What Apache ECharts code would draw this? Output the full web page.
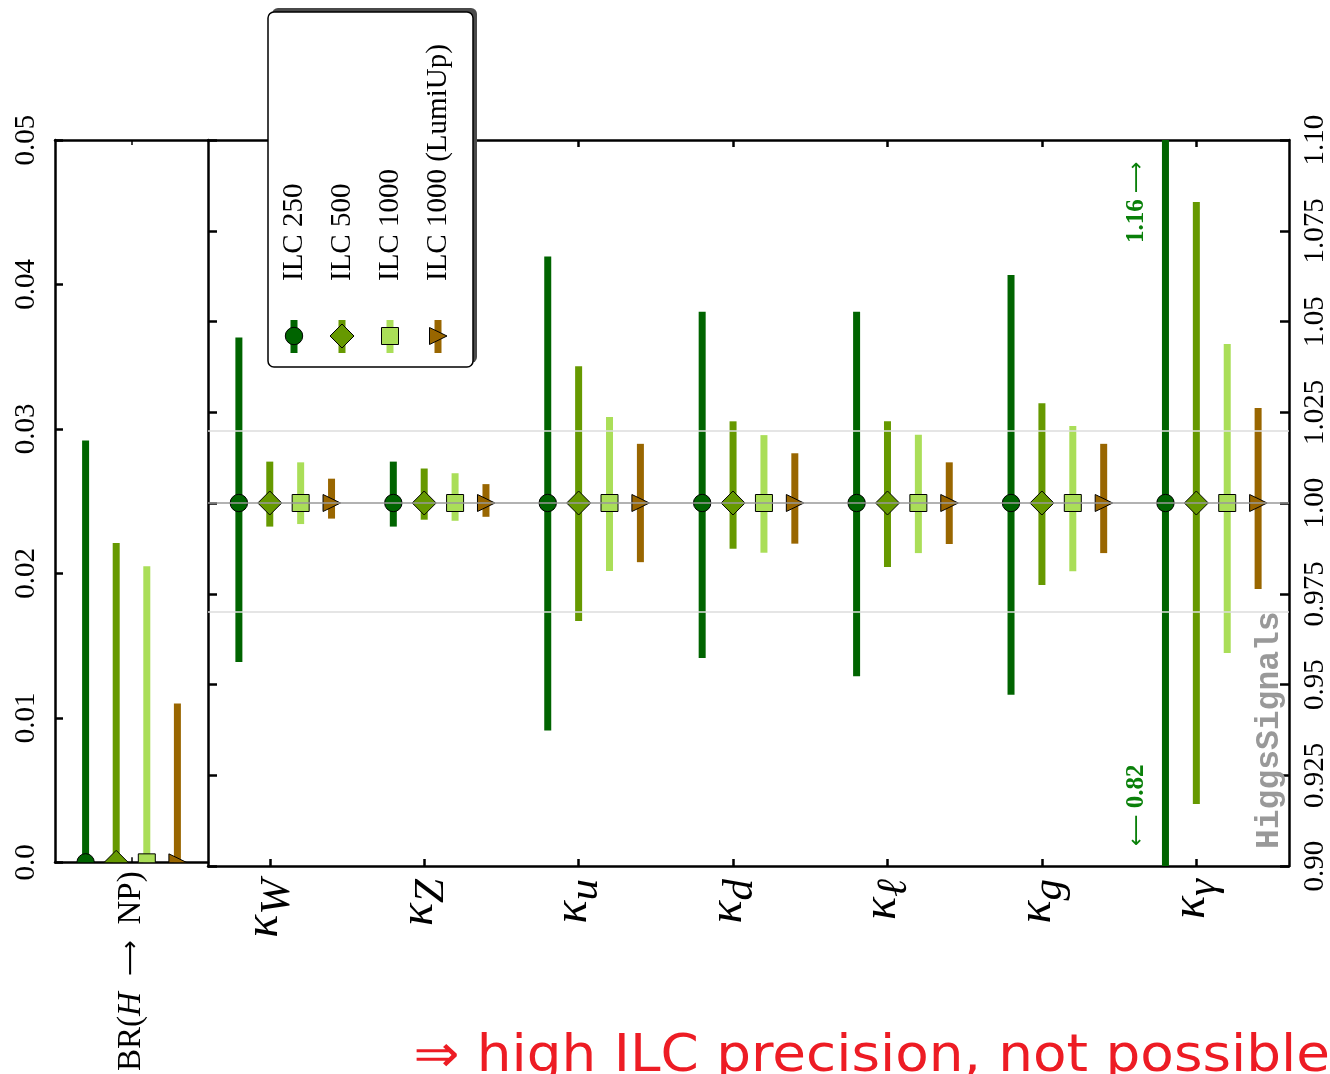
<!DOCTYPE html>
<html>
<head>
<meta charset="utf-8">
<title>ILC coupling precision</title>
<script src="https://cdn.jsdelivr.net/npm/echarts@6/dist/echarts.min.js"></script>
<style>
  html, body { margin: 0; padding: 0; background: #fff; }
  #chart { width: 1330px; height: 1074px; }
</style>
</head>
<body>
<div id="chart"></div>
<script>
// ---- data ----
const kappaNames = ['W', 'Z', 'u', 'd', 'ℓ', 'g', 'γ'];
const configNames = ['ILC 250', 'ILC 500', 'ILC 1000', 'ILC 1000 (LumiUp)'];
const brLimits = [0.0292, 0.0221, 0.0205, 0.0110];   // upper limit of BR(H -> NP)
const kappaCentral = 1.0;
const upper250 = [0.0456, 0.0114, 0.0679, 0.0527, 0.0527, 0.0628, 0.16];
const lower250 = [0.0438, 0.0065, 0.0627, 0.0427, 0.0477, 0.0528, 0.18];
const upper500 = [0.0114, 0.0095, 0.0377, 0.0225, 0.0225, 0.0275, 0.0829];
const lower500 = [0.0065, 0.0046, 0.0325, 0.0126, 0.0176, 0.0226, 0.0829];
const upper1000 = [0.0112, 0.0082, 0.0237, 0.0187, 0.0188, 0.0212, 0.0438];
const lower1000 = [0.0058, 0.0049, 0.0187, 0.0137, 0.0138, 0.0188, 0.0413];
const upperLumi = [0.0067, 0.0052, 0.0163, 0.0137, 0.0112, 0.0163, 0.0262];
const lowerLumi = [0.0043, 0.0038, 0.0163, 0.0112, 0.0113, 0.0138, 0.0237];
const brTicks = [0, 0.01, 0.02, 0.03, 0.04, 0.05];
const kappaTicks = [0.9, 0.925, 0.95, 0.975, 1.0, 1.025, 1.05, 1.075, 1.1];

const uppers = [upper250, upper500, upper1000, upperLumi];
const lowers = [lower250, lower500, lower1000, lowerLumi];

// ---- styling ----
const colors = ['#006400', '#669900', '#aade58', '#996600'];
const shapes = ['circle', 'diamond', 'square', 'triangle'];
const brOffsets = [-0.3, -0.1, 0.1, 0.3];
const kappaOffsets = [-0.2, 0, 0.2, 0.4];
const serif = '"Liberation Serif", "DejaVu Serif", serif';
const arrowFont = '"DejaVu Sans", sans-serif';

function markerShape(k, x, y) {
  const style = { fill: colors[k], stroke: '#000', lineWidth: 1 };
  if (shapes[k] === 'circle') {
    return { type: 'circle', shape: { cx: x, cy: y, r: 8.7 }, style: style };
  }
  if (shapes[k] === 'diamond') {
    return { type: 'polygon', shape: { points: [[x, y - 12], [x + 12, y], [x, y + 12], [x - 12, y]] }, style: style };
  }
  if (shapes[k] === 'square') {
    return { type: 'rect', shape: { x: x - 8.5, y: y - 8.5, width: 17, height: 17 }, style: style };
  }
  return { type: 'polygon', shape: { points: [[x - 8.5, y - 8.5], [x + 9, y], [x - 8.5, y + 8.5]] }, style: style };
}

function errorBarRender(k) {
  return function (params, api) {
    const x = api.value(0), c = api.value(1), lo = api.value(2), hi = api.value(3);
    const top = api.coord([x, c + hi]);
    const bot = api.coord([x, c - lo]);
    const mid = api.coord([x, c]);
    return {
      type: 'group',
      children: [
        { type: 'rect', shape: { x: mid[0] - 3.5, y: top[1], width: 7, height: bot[1] - top[1] }, style: { fill: colors[k] } },
        markerShape(k, mid[0], mid[1])
      ]
    };
  };
}

function yLabel(v) {
  let s = v.toFixed(3);
  if (s.endsWith('0')) s = s.slice(0, -1);
  return s;
}

const series = [
  {
    type: 'line', xAxisIndex: 2, yAxisIndex: 1, data: [], z: 1, silent: true,
    markLine: {
      symbol: 'none', silent: true, label: { show: false },
      data: [
        { yAxis: 1.025, lineStyle: { color: '#dcdcdc', width: 1.5, type: 'solid' } },
        { yAxis: 0.975, lineStyle: { color: '#dcdcdc', width: 1.5, type: 'solid' } },
        { yAxis: kappaCentral, lineStyle: { color: '#999', width: 1.5, type: 'solid' } }
      ]
    }
  }
];

configNames.forEach(function (name, k) {
  series.push({
    name: name, type: 'custom', xAxisIndex: 0, yAxisIndex: 0, clip: true, z: 3,
    renderItem: errorBarRender(k),
    data: [[brOffsets[k], 0, 0, brLimits[k]]]
  });
  series.push({
    name: name, type: 'custom', xAxisIndex: 2, yAxisIndex: 1, clip: true, z: 3,
    renderItem: errorBarRender(k),
    data: kappaNames.map(function (n, i) {
      return [i + kappaOffsets[k], kappaCentral, lowers[k][i], uppers[k][i]];
    })
  });
});

// legend, drawn by hand because its text is rotated
const legendItems = [
  { type: 'rect', shape: { x: 272, y: 8, width: 205, height: 355, r: 6 }, style: { fill: '#4a4a4a' }, z: 100 },
  { type: 'rect', shape: { x: 268, y: 12, width: 205, height: 355, r: 6 }, style: { fill: '#fff', stroke: '#000', lineWidth: 1.5 }, z: 101 }
];
const legendX = [294, 342, 390, 438];
configNames.forEach(function (name, k) {
  const x = legendX[k];
  legendItems.push({
    type: 'text', x: x, y: 281, rotation: Math.PI / 2, z: 102,
    style: { text: name, font: '29px ' + serif, fill: '#000', align: 'left', verticalAlign: 'middle' }
  });
  legendItems.push({ type: 'rect', shape: { x: x - 3.5, y: 320, width: 7, height: 33 }, style: { fill: colors[k] }, z: 102 });
  const m = markerShape(k, x, 336);
  m.z = 103;
  legendItems.push(m);
});

const boundRich = {
  n: { fontFamily: serif, fontSize: 25, fontWeight: 'bold', fill: '#0a800a' },
  a: { fontFamily: arrowFont, fontSize: 22, fill: '#0a800a' }
};
const annotations = [
  {
    type: 'text', x: 1137, y: 243, rotation: Math.PI / 2, z: 50,
    style: { text: '{n|1.16 }{a|⟶}', rich: boundRich, fill: '#0a800a', align: 'left', verticalAlign: 'middle' }
  },
  {
    type: 'text', x: 1137, y: 846, rotation: Math.PI / 2, z: 50,
    style: { text: '{a|⟵}{n| 0.82}', rich: boundRich, fill: '#0a800a', align: 'left', verticalAlign: 'middle' }
  },
  {
    type: 'text', x: 1270, y: 849, rotation: Math.PI / 2, z: 50,
    style: { text: 'HiggsSignals', font: 'bold 33px "Liberation Mono", "DejaVu Sans Mono", monospace', fill: '#999', align: 'left', verticalAlign: 'middle' }
  },
  {
    type: 'text', x: 1330, y: 1058, scaleX: 1.075, z: 50,
    style: { text: '⇒ high ILC precision, not possible', font: '51px "DejaVu Sans", sans-serif', fill: '#ed1c24', align: 'right', verticalAlign: 'middle' }
  }
];

const axisLineStyle = { show: true, onZero: false, lineStyle: { color: '#000', width: 2.5 } };
const kappaTickValues = kappaNames.map(function (n, i) { return i; });

const chart = echarts.init(document.getElementById('chart'), null, { renderer: 'canvas' });
chart.setOption({
  backgroundColor: '#fff',
  animation: false,
  grid: [
    { left: 55, right: 1122, top: 140, bottom: 208 },
    { left: 208, right: 39, top: 140, bottom: 208 }
  ],
  xAxis: [
    {
      gridIndex: 0, type: 'value', position: 'bottom', min: -0.5, max: 0.5,
      axisLine: axisLineStyle, splitLine: { show: false },
      axisTick: { show: true, inside: true, length: 5, lineStyle: { color: '#000', width: 1.5 }, customValues: [0] },
      axisLabel: {
        show: true, customValues: [0], rotate: 90, margin: 9,
        formatter: function () { return '{r|BR(}{i|H}{a|  ⟶  }{r|NP)}'; },
        rich: {
          r: { fontFamily: serif, fontSize: 33, color: '#000' },
          i: { fontFamily: serif, fontSize: 33, fontStyle: 'italic', color: '#000' },
          a: { fontFamily: arrowFont, fontSize: 25, color: '#000' }
        }
      }
    },
    {
      gridIndex: 0, type: 'value', position: 'top', min: -0.5, max: 0.5,
      axisLine: axisLineStyle, splitLine: { show: false }, axisLabel: { show: false },
      axisTick: { show: true, inside: true, length: 5, lineStyle: { color: '#000', width: 1.5 }, customValues: [0] }
    },
    {
      gridIndex: 1, type: 'value', position: 'bottom', min: -0.4, max: 6.6,
      axisLine: axisLineStyle, splitLine: { show: false },
      axisTick: { show: true, inside: true, length: 7, lineStyle: { color: '#000', width: 2.5 }, customValues: kappaTickValues },
      axisLabel: {
        show: true, rotate: 90, margin: 13,
        customValues: kappaTickValues,
        formatter: function (v) { return '{k|κ}{s|' + kappaNames[Math.round(v)] + '}'; },
        rich: {
          k: { fontFamily: serif, fontSize: 48, fontStyle: 'italic', color: '#000', padding: [0, 0, 10, 0], verticalAlign: 'bottom' },
          s: { fontFamily: serif, fontSize: 43, fontStyle: 'italic', color: '#000', verticalAlign: 'bottom' }
        }
      }
    },
    {
      gridIndex: 1, type: 'value', position: 'top', min: -0.4, max: 6.6,
      axisLine: axisLineStyle, splitLine: { show: false }, axisLabel: { show: false },
      axisTick: { show: true, inside: true, length: 7, lineStyle: { color: '#000', width: 2.5 }, customValues: kappaTickValues }
    }
  ],
  yAxis: [
    {
      gridIndex: 0, type: 'value', position: 'left', min: brTicks[0], max: brTicks[brTicks.length - 1], interval: 0.01,
      axisLine: axisLineStyle, splitLine: { show: false },
      axisTick: { show: true, inside: true, length: 8, lineStyle: { color: '#000', width: 2.5 } },
      axisLabel: {
        show: true, rotate: 90, margin: 14, showMinLabel: true, showMaxLabel: true,
        fontFamily: serif, fontSize: 29, color: '#000',
        formatter: function (v) { return v === 0 ? '0.0' : v.toFixed(2); }
      }
    },
    {
      gridIndex: 1, type: 'value', position: 'right', min: kappaTicks[0], max: kappaTicks[kappaTicks.length - 1], interval: 0.025,
      axisLine: axisLineStyle, splitLine: { show: false },
      axisTick: { show: true, inside: true, length: 9, lineStyle: { color: '#000', width: 2.5 } },
      axisLabel: {
        show: true, rotate: 90, margin: 12, showMinLabel: true, showMaxLabel: true,
        fontFamily: serif, fontSize: 29, color: '#000',
        formatter: yLabel
      }
    },
    {
      gridIndex: 1, type: 'value', position: 'left', min: kappaTicks[0], max: kappaTicks[kappaTicks.length - 1], interval: 0.025,
      axisLine: axisLineStyle, splitLine: { show: false }, axisLabel: { show: false },
      axisTick: { show: true, inside: true, length: 9, lineStyle: { color: '#000', width: 2.5 } }
    }
  ],
  series: series,
  graphic: legendItems.concat(annotations)
});
window.addEventListener('resize', function () { chart.resize(); });
</script>
</body>
</html>
